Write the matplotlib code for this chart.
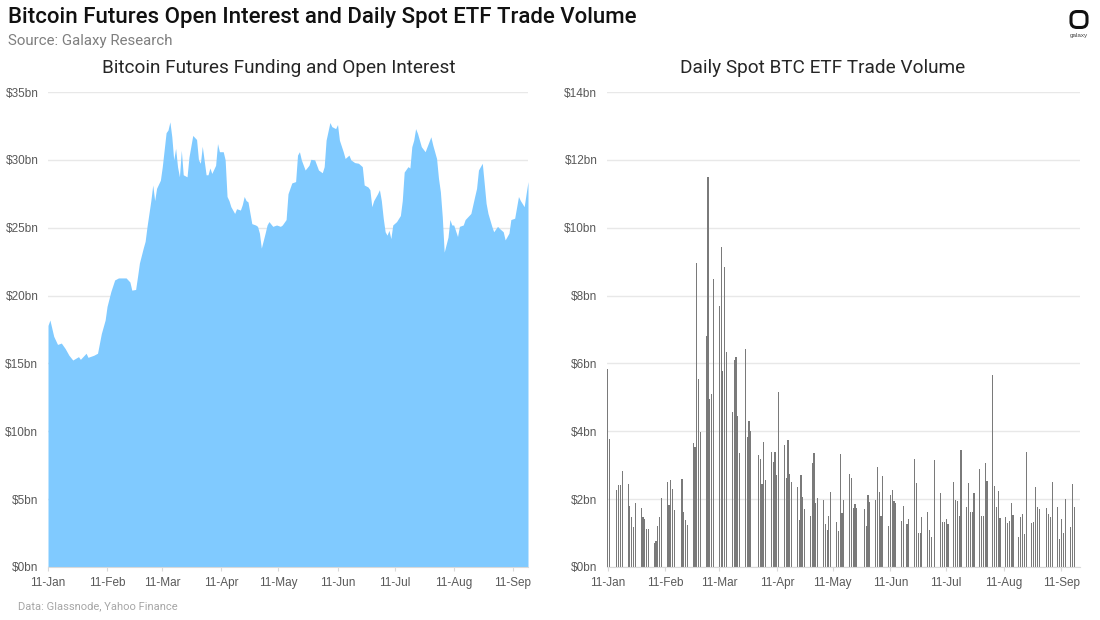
import numpy as np
import pandas as pd
import matplotlib
matplotlib.use('Agg')
import matplotlib.pyplot as plt
import matplotlib.dates as mdates
from matplotlib.ticker import FuncFormatter, MultipleLocator
from matplotlib.patches import FancyBboxPatch

# %% data
start = pd.Timestamp('2024-01-11')

# futures open interest ($bn): day offset from 11-Jan and value
oi_day = [0, 1, 3, 5, 7, 9, 11, 13, 16, 17, 20, 21, 24, 26, 28, 30, 31, 33, 35, 37,
          41, 43, 44, 46, 47, 48, 50, 51, 52, 54, 55, 56, 57, 59, 60, 62, 63, 64, 65, 66,
          67, 68, 69, 70, 71, 73, 74, 76, 78, 79, 80, 81, 83, 84, 85, 86, 88, 89, 90, 92,
          93, 94, 95, 96, 98, 99, 101, 102, 103, 104, 105, 107, 109, 110, 111, 112, 114, 115, 116, 118,
          120, 122, 123, 125, 126, 128, 130, 131, 132, 133, 135, 137, 138, 140, 142, 144, 145, 146, 148, 149,
          151, 152, 153, 155, 156, 158, 159, 161, 163, 165, 166, 168, 169, 170, 171, 173, 174, 175, 176, 177,
          178, 179, 180, 181, 183, 185, 186, 187, 189, 190, 191, 192, 193, 194, 196, 198, 199, 201, 202, 204,
          205, 206, 207, 208, 210, 211, 212, 213, 215, 216, 218, 219, 221, 222, 224, 225, 226, 228, 229, 230,
          231, 233, 234, 236, 237, 239, 240, 242, 243, 245, 247, 248, 250, 251, 252]
oi_val = [17.8, 18.2, 17.0, 16.4, 16.5, 16.1, 15.6, 15.25, 15.5, 15.3, 15.75, 15.45, 15.6, 15.75, 17.2, 18.2, 19.2, 20.3, 21.15, 21.3,
          21.3, 21.0, 20.4, 20.45, 21.4, 22.4, 23.5, 24.0, 25.1, 27.0, 28.15, 27.0, 27.9, 28.5, 29.5, 32.0, 32.2, 32.8, 31.7, 30.0,
          30.85, 29.5, 28.75, 30.7, 28.9, 28.75, 30.2, 31.8, 31.5, 30.0, 29.75, 31.0, 28.9, 28.9, 29.4, 29.0, 29.6, 31.2, 30.6, 30.6,
          30.0, 27.3, 27.0, 26.55, 26.05, 26.4, 26.3, 26.7, 27.3, 27.0, 26.9, 25.3, 25.2, 25.1, 24.6, 23.5, 24.6, 25.2, 25.45, 25.1,
          25.2, 25.1, 25.2, 25.6, 27.5, 28.3, 28.4, 30.35, 30.6, 30.0, 29.25, 29.6, 30.04, 30.0, 29.25, 29.05, 29.5, 31.45, 32.75, 32.45,
          32.3, 32.6, 31.45, 30.6, 30.1, 30.35, 30.0, 29.8, 29.75, 29.5, 28.15, 28.0, 27.8, 26.55, 27.0, 27.5, 27.8, 27.0, 25.7, 24.7,
          24.45, 24.8, 24.2, 25.2, 25.45, 25.9, 27.0, 29.1, 29.5, 29.4, 30.97, 31.45, 32.3, 31.95, 30.97, 30.6, 30.97, 31.7, 31.1, 30.1,
          28.65, 27.65, 25.8, 23.2, 24.3, 25.6, 25.2, 25.2, 24.35, 25.1, 25.2, 25.6, 25.9, 26.05, 27.3, 27.9, 29.25, 29.75, 28.3, 26.8,
          26.05, 25.1, 24.7, 25.1, 24.95, 24.7, 24.1, 24.6, 25.6, 25.7, 27.3, 27.0, 26.55, 27.5, 28.4]

# spot ETF daily volume ($bn), one value per US trading day from 11-Jan to 18-Sep
holidays = ['2024-01-15', '2024-02-19', '2024-03-29', '2024-05-27', '2024-06-19', '2024-07-04', '2024-09-02']
etf_vol = [5.85, 3.76, 2.27, 2.42, 2.42, 2.84, 2.44, 1.80, 1.46, 1.19, 1.90, 1.75, 1.48, 1.41,  # Jan
           1.11, 1.11, 0.72, 0.77, 1.21, 1.46, 2.04, 2.51, 1.83, 2.56, 2.30, 1.68, 2.58, 1.63, 1.39, 1.24,
           3.66, 3.55, 8.95, 5.54,  # Feb
           3.99, 6.81, 11.5, 4.94, 5.09, 8.5, 7.7, 9.42, 5.79, 8.85, 6.35, 4.56, 6.10, 6.18, 4.46, 3.35,
           6.44, 3.84, 4.30, 4.02,  # Mar
           3.30, 3.17, 2.44, 3.69, 2.56, 3.38, 3.10, 3.40, 2.71, 5.15, 3.61, 2.63, 3.74, 2.73, 2.51, 2.37,
           1.39, 2.71, 2.07, 1.70, 1.51, 3.07,  # Apr
           3.37, 1.88, 2.02, 1.97, 1.27, 1.09, 1.50, 2.22, 1.32, 1.06, 3.33, 1.60, 1.97, 2.73, 2.63, 1.73,
           1.86, 1.73, 1.71, 1.21, 2.12, 1.93,  # May
           1.97, 2.96, 2.22, 1.51, 2.69, 1.21, 2.12, 2.27, 1.94, 1.88, 1.37, 1.81, 1.27, 1.41, 3.18, 2.47,
           1.01, 1.01, 1.46,  # Jun
           1.61, 1.09, 0.87, 3.15, 2.19, 1.34, 1.34, 1.41, 1.27, 2.51, 1.97, 1.94, 1.51, 3.45, 1.76, 2.49,
           1.61, 1.61, 2.17, 2.88, 1.50, 1.50,  # Jul
           3.08, 2.53, 5.66, 2.39, 1.76, 2.24, 1.43, 1.46, 1.29, 1.36, 1.88, 1.53, 0.87, 1.46, 1.56, 0.97,
           3.40, 1.31, 1.34, 2.35, 1.78, 1.70,  # Aug
           1.73, 1.55, 1.46, 2.51, 1.78, 0.82, 1.42, 0.99, 1.99, 1.19, 2.45, 1.76]  # Sep

month_ticks = ['2024-01-11', '2024-02-11', '2024-03-11', '2024-04-11', '2024-05-11',
               '2024-06-11', '2024-07-11', '2024-08-11', '2024-09-11']

oi_dates = start + pd.to_timedelta(oi_day, unit='D')
etf_dates = pd.bdate_range('2024-01-11', '2024-09-18')
etf_dates = etf_dates[~etf_dates.isin(pd.to_datetime(holidays))]
assert len(etf_dates) == len(etf_vol), (len(etf_dates), len(etf_vol))

# %% figure
plt.rcParams['font.family'] = ['Liberation Sans', 'DejaVu Sans']
fig = plt.figure(figsize=(11, 6.2), dpi=100)
W, H = 1100, 620

def px(x0, y0, x1, y1):
    # pixel box (top-left origin) -> axes rect
    return [x0 / W, 1 - y1 / H, (x1 - x0) / W, (y1 - y0) / H]

ax1 = fig.add_axes(px(48, 92, 528, 567))
ax2 = fig.add_axes(px(607, 92, 1080, 567))

ax1.fill_between(oi_dates, oi_val, 0, color='#80CAFF', lw=0)
ax1.set_ylim(0, 35)
ax1.set_xlim(oi_dates[0], oi_dates[-1])
ax1.yaxis.set_major_locator(MultipleLocator(5))

# thin bars, ~1px each, no antialiasing so none of them fade out
ax2.bar(etf_dates, etf_vol, width=0.6, color='#7a7a7a', linewidth=0, antialiased=False)
ax2.set_ylim(0, 14)
ax2.set_xlim(pd.Timestamp('2024-01-11') - pd.Timedelta(hours=8), pd.Timestamp('2024-09-21'))
ax2.yaxis.set_major_locator(MultipleLocator(2))

for ax in (ax1, ax2):
    ax.set_xticks(pd.to_datetime(month_ticks))
    ax.xaxis.set_major_formatter(mdates.DateFormatter('%d-%b'))
    ax.yaxis.set_major_formatter(FuncFormatter(lambda v, p: '$%dbn' % v))
    ax.grid(axis='y', color='#e8e8e8', lw=1)
    ax.set_axisbelow(True)
    for s in ('top', 'right', 'left'):
        ax.spines[s].set_visible(False)
    ax.spines['bottom'].set_color('#d9d9d9')
    ax.tick_params(axis='y', length=0, pad=7, labelsize=8.5, labelcolor='#595959')
    ax.tick_params(axis='x', length=3, color='#d9d9d9', pad=4, labelsize=8.5, labelcolor='#595959')

# %% titles
fig.text(8 / W, 1 - 17 / H, 'Bitcoin Futures Open Interest and Daily Spot ETF Trade Volume',
         fontsize=16, family=['Roboto', 'DejaVu Sans'], weight='medium', color='#111111', va='center')
fig.text(8 / W, 1 - 41 / H, 'Source: Galaxy Research', fontsize=10.8,
         family=['Roboto', 'DejaVu Sans'], color='#7f7f7f', va='center')
fig.text(279 / W, 1 - 68 / H, 'Bitcoin Futures Funding and Open Interest', fontsize=13.7,
         family=['Roboto', 'DejaVu Sans'], color='#262626', ha='center', va='center')
fig.text(823 / W, 1 - 68 / H, 'Daily Spot BTC ETF Trade Volume', fontsize=13.7,
         family=['Roboto', 'DejaVu Sans'], color='#262626', ha='center', va='center')
fig.text(18 / W, 1 - 606 / H, 'Data: Glassnode, Yahoo Finance', fontsize=8,
         family=['Roboto', 'DejaVu Sans'], color='#a6a6a6', va='center')

# logo
lax = fig.add_axes(px(1069, 10, 1089, 29))
lax.set_xlim(0, 1)
lax.set_ylim(0, 1)
lax.axis('off')
lax.add_patch(FancyBboxPatch((0.1, 0.08), 0.8, 0.84, boxstyle='round,pad=0,rounding_size=0.3',
                             fill=False, lw=2.2, ec='#111111'))
fig.text(1079 / W, 1 - 36 / H, 'galaxy', fontsize=4.5, color='#444444', ha='center', va='center')

fig.savefig('out.png', dpi=100)
